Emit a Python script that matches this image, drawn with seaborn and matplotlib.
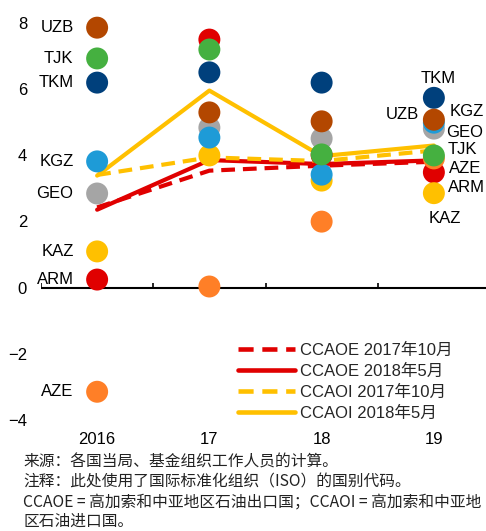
import numpy as np
import pandas as pd
import matplotlib
matplotlib.use("Agg")
import matplotlib.pyplot as plt
from matplotlib.lines import Line2D
import seaborn as sns

# data
years = ["2016", "17", "18", "19"]
countries = ["ARM", "AZE", "GEO", "KAZ", "KGZ", "TJK", "TKM", "UZB"]
vals_2016 = [0.24, -3.15, 2.84, 1.09, 3.81, 6.92, 6.19, 7.85]
vals_2017 = [7.49, 0.03, 4.83, 3.99, 4.53, 7.19, 6.50, 5.29]
vals_2018 = [4.00, 1.99, 4.50, 3.23, 3.41, 4.02, 6.19, 5.02]
vals_2019 = [3.48, 3.90, 4.80, 2.85, 4.98, 3.99, 5.73, 5.07]

series = ["CCAOE 2017年10月", "CCAOE 2018年5月", "CCAOI 2017年10月", "CCAOI 2018年5月"]
ccaoe_oct17 = [2.42, 3.53, 3.68, 3.80]
ccaoe_may18 = [2.35, 3.85, 3.73, 3.84]
ccaoi_oct17 = [3.40, 3.93, 3.82, 4.14]
ccaoi_may18 = [3.38, 5.95, 3.97, 4.29]

yticks = [-4, -2, 0, 2, 4, 6, 8]

notes = [
    "来源：各国当局、基金组织工作人员的计算。",
    "注释：此处使用了国际标准化组织（ISO）的国别代码。",
    "CCAOE = 高加索和中亚地区石油出口国；CCAOI = 高加索和中亚地",
    "区石油进口国。",
]

# styles
country_colors = {
    "ARM": "#E00000", "AZE": "#FF7F27", "GEO": "#A5A5A5", "KAZ": "#FFC000",
    "KGZ": "#1E9BD7", "TJK": "#45B040", "TKM": "#00407C", "UZB": "#B34700",
}
line_colors = dict(zip(series, ["#E00000", "#E00000", "#FFC000", "#FFC000"]))
line_dashes = dict(zip(series, [(3.3, 1.9), "", (3.3, 1.9), ""]))

# label offsets (points) for first / last year
first_off = {c: (-17, 0, "right") for c in countries}
last_off = {
    "TKM": (3, 14, "center"), "UZB": (-11, 4, "right"), "KGZ": (11, 8, "left"),
    "GEO": (9, -3, "left"), "TJK": (10, 4, "left"), "AZE": (11, -7, "left"),
    "ARM": (10, -11, "left"), "KAZ": (8, -18, "center"),
}

sns.set_theme(style="white")
plt.rcParams["font.family"] = ["Liberation Sans", "Noto Sans CJK SC"]
plt.rcParams["axes.unicode_minus"] = True

all_vals = [vals_2016, vals_2017, vals_2018, vals_2019]
pts = pd.DataFrame(
    [(c, i, all_vals[i][k]) for k, c in enumerate(countries) for i in range(len(years))],
    columns=["country", "pos", "value"],
)
line_vals = [ccaoe_oct17, ccaoe_may18, ccaoi_oct17, ccaoi_may18]
lines = pd.DataFrame(
    [(s, i, v) for s, vs in zip(series, line_vals) for i, v in enumerate(vs)],
    columns=["series", "pos", "value"],
)

fig = plt.figure(figsize=(4.86, 5.31), dpi=100)
ax = fig.add_axes([41 / 486, 1 - 419.9 / 531, 449 / 486, 397.2 / 531])

sns.lineplot(data=lines, x="pos", y="value", hue="series", style="series",
             hue_order=series, style_order=series, palette=line_colors,
             dashes=line_dashes, linewidth=3, legend=False, ax=ax, zorder=2)
sns.scatterplot(data=pts, x="pos", y="value", hue="country", hue_order=countries,
                palette=country_colors, s=250, linewidth=0, legend=False,
                ax=ax, zorder=3, clip_on=False)

# zero line and category separators
ax.axhline(0, color="black", lw=1.5, zorder=1)
ax.vlines(np.arange(len(years) + 1) - 0.5, 0, 0.14, color="black", lw=1.2, zorder=1)

# country labels
for k, c in enumerate(countries):
    dx, dy, ha = first_off[c]
    ax.annotate(c, (0, vals_2016[k]), xytext=(dx, dy), textcoords="offset points",
                ha=ha, va="center", fontsize=12, color="black")
    dx, dy, ha = last_off[c]
    ax.annotate(c, (len(years) - 1, vals_2019[k]), xytext=(dx, dy),
                textcoords="offset points", ha=ha, va="center", fontsize=12,
                color="black", zorder=4)

ax.set_xlim(-0.5, len(years) - 0.5)
ax.set_ylim(-4, 8)
ax.set_xticks(range(len(years)))
ax.set_xticklabels(years)
ax.set_yticks(yticks)
ax.tick_params(axis="both", length=0, labelsize=12, colors="black")
ax.tick_params(axis="y", pad=10)
ax.tick_params(axis="x", pad=9)
ax.set_xlabel("")
ax.set_ylabel("")
for sp in ax.spines.values():
    sp.set_visible(False)

handles = [Line2D([], [], color=line_colors[s], lw=3.3,
                  dashes=line_dashes[s] if line_dashes[s] else (None, None))
           for s in series]
ax.legend(handles, series, loc="upper left", bbox_to_anchor=(0.4388, 0.1937),
          frameon=False, fontsize=12, handlelength=3.4, handletextpad=0.3,
          labelspacing=0.34, borderpad=0, borderaxespad=0)

for i, t in enumerate(notes):
    fig.text(23 / 486, 1 - (462.5 + i * 19.7) / 531, t, ha="left", va="center",
             fontsize=11.3, family=["Noto Sans CJK SC"], color="#222222")

fig.savefig("out.png", dpi=100)
